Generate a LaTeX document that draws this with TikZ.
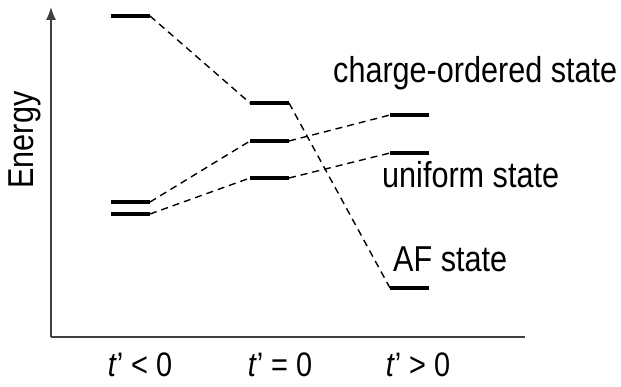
\documentclass[tikz,border=0pt]{standalone}
\usepackage{fontspec}
\setmainfont{Liberation Sans}[FakeStretch=0.85]
\usetikzlibrary{arrows.meta}
\begin{document}
\begin{tikzpicture}[x=1pt,y=-1pt,
  level/.style={line width=3.8pt},
  conn/.style={line width=1.4pt, dash pattern=on 7pt off 5pt},
  axis/.style={line width=1.4pt, draw=black!75},
  lbl/.style={inner sep=0pt, anchor=base west, font=\fontsize{36}{42}\selectfont},
  tick/.style={inner sep=0pt, anchor=base, font=\fontsize{34}{40}\selectfont}]
\useasboundingbox (0,0) rectangle (621,387);
% axes
\coordinate (O) at (51,337);
\coordinate (Ytop) at (51,7);
\coordinate (Xend) at (525,337);
\draw[axis, -{Latex[length=13pt,width=10pt]}] (O) -- (Ytop);
\draw[axis] (O) -- (Xend);
% level coordinates
\coordinate (L1a) at (111,16);  \coordinate (L1b) at (150,16);
\coordinate (L2a) at (111,202); \coordinate (L2b) at (150,202);
\coordinate (L3a) at (111,214); \coordinate (L3b) at (150,214);
\coordinate (M1a) at (250,103); \coordinate (M1b) at (289,103);
\coordinate (M2a) at (250,141); \coordinate (M2b) at (289,141);
\coordinate (M3a) at (250,178); \coordinate (M3b) at (289,178);
\coordinate (R1a) at (390,115); \coordinate (R1b) at (429,115);
\coordinate (R2a) at (390,153); \coordinate (R2b) at (429,153);
\coordinate (R3a) at (390,288); \coordinate (R3b) at (429,288);
% levels
\foreach \p in {L1,L2,L3,M1,M2,M3,R1,R2,R3}
  \draw[level] (\p a) -- (\p b);
% connectors
\draw[conn] (L1b) -- (M1a);
\draw[conn] (M1b) -- (R3a);
\draw[conn] (L2b) -- (M2a);
\draw[conn] (M2b) -- (R1a);
\draw[conn] (L3b) -- (M3a);
\draw[conn] (M3b) -- (R2a);
% labels
\node[lbl] (co) at (333,83) {charge-ordered state};
\node[lbl] (un) at (382,188) {uniform state};
\node[lbl] (af) at (393,272) {AF state};
\node[inner sep=0pt, anchor=base, rotate=90, font=\fontsize{36}{42}\selectfont] (en) at (33,140) {Energy};
\node[tick] (t1) at (140,376) {\textit{t}’ < 0};
\node[tick] (t2) at (280,376) {\textit{t}’ = 0};
\node[tick] (t3) at (418,376) {\textit{t}’ > 0};
\end{tikzpicture}
\end{document}
